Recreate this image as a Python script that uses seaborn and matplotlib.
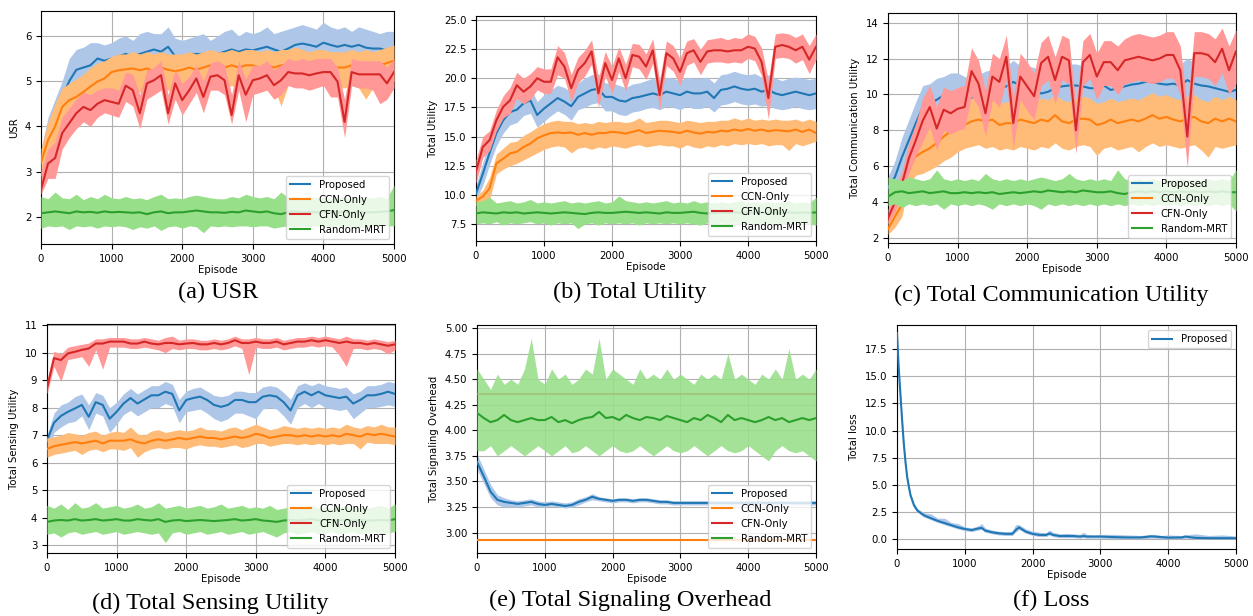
import numpy as np
import pandas as pd
import matplotlib
matplotlib.use("Agg")
import matplotlib.pyplot as plt
import seaborn as sns

# episodes (every 100) shared by panels a-e
ep = list(range(0, 5001, 100))

# ---- (a) USR ----
usr_prop = [3.3,3.7,4.2,4.65,5.0,5.25,5.3,5.35,5.5,5.45, 5.5,5.55,5.6,5.55,5.6,5.65,5.7,5.65,5.76,5.55,
            5.55,5.6,5.6,5.6,5.55,5.6,5.65,5.7,5.65,5.7, 5.68,5.72,5.76,5.7,5.65,5.72,5.8,5.83,5.8,5.76,
            5.85,5.8,5.76,5.8,5.76,5.8,5.74,5.72,5.72,5.68, 5.72]
usr_prop_hi = [3.5,4.2,4.6,5.0,5.5,5.7,5.75,5.85,5.85,5.8, 5.85,5.95,6.0,5.9,6.05,6.1,6.05,6.05,6.2,5.95,
               5.9,5.95,6.0,6.05,5.9,6.0,6.1,6.15,6.0,6.1, 6.05,6.1,6.2,6.05,6.1,6.15,6.2,6.25,6.2,6.15,
               6.3,6.2,6.15,6.2,6.1,6.2,6.15,6.1,6.05,6.1, 6.1]
usr_prop_lo = [3.0,3.35,3.8,4.3,4.6,4.9,4.95,5.0,5.15,5.1, 5.15,5.2,5.25,5.2,5.25,5.3,5.35,5.3,5.4,5.2,
               5.2,5.25,5.25,5.25,5.2,5.25,5.3,5.35,5.3,5.35, 5.3,5.35,5.4,5.35,5.3,5.35,5.45,5.45,5.45,5.4,
               5.5,5.45,5.4,5.45,5.4,5.45,5.4,5.35,5.35,5.3, 5.35]
usr_ccn = [3.2,3.7,4.0,4.43,4.58,4.65,4.76,4.88,4.99,5.06, 5.2,5.24,5.26,5.28,5.24,5.28,5.22,5.3,5.25,5.22,
           5.25,5.3,5.25,5.3,5.35,5.3,5.3,5.35,5.3,5.35, 5.35,5.3,5.35,5.3,5.35,5.35,5.4,5.35,5.3,5.35,
           5.35,5.3,5.3,5.3,5.35,5.3,5.35,5.3,5.35,5.4, 5.45]
usr_ccn_hi = [3.5,4.1,4.5,4.85,4.95,5.05,5.15,5.3,5.4,5.45, 5.55,5.6,5.6,5.65,5.6,5.65,5.6,5.65,5.6,5.6,
              5.6,5.65,5.6,5.65,5.7,5.65,5.65,5.7,5.65,5.7, 5.7,5.65,5.7,5.65,5.7,5.7,5.75,5.7,5.65,5.7,
              5.7,5.65,5.65,5.65,5.7,5.65,5.7,5.65,5.7,5.75, 5.8]
usr_ccn_lo = [2.9,3.3,3.6,4.0,4.2,4.25,4.35,4.45,4.55,4.6, 4.75,4.8,4.8,4.85,4.75,4.85,4.8,4.85,4.8,4.75,
              4.8,4.85,4.8,4.85,4.9,4.85,4.85,4.9,4.85,4.9, 4.85,4.85,4.9,4.85,4.45,4.9,4.95,4.9,4.85,4.9,
              4.9,4.85,4.85,4.85,4.9,4.85,4.6,4.85,4.9,4.95, 5.0]
usr_cfn = [2.6,3.18,3.3,3.85,4.07,4.29,4.43,4.36,4.5,4.58, 4.54,4.5,4.9,4.8,4.29,4.95,5.02,5.13,4.29,4.95,
           4.58,4.8,5.06,4.65,5.1,5.13,5.02,4.25,5.13,4.7, 5.02,5.06,5.13,4.91,5.02,5.2,5.17,5.17,5.13,5.17,
           5.2,5.2,4.99,4.1,5.2,5.15,5.15,5.15,5.15,4.95, 5.2]
usr_cfn_hi = [3.0,3.5,3.65,4.2,4.4,4.6,4.75,4.7,4.8,4.85, 4.85,4.8,5.2,5.15,4.7,5.25,5.3,5.45,4.7,5.25,
              4.95,5.1,5.35,5.0,5.4,5.45,5.35,4.7,5.45,5.05, 5.35,5.35,5.45,5.25,5.35,5.5,5.45,5.5,5.45,5.5,
              5.5,5.5,5.3,4.6,5.5,5.45,5.45,5.45,5.45,5.3, 5.5]
usr_cfn_lo = [2.5,2.85,2.85,3.5,3.75,3.95,4.1,4.0,4.2,4.3, 4.25,4.2,4.55,4.45,3.95,4.6,4.7,4.8,4.05,4.6,
              4.25,4.5,4.75,4.3,4.8,4.8,4.7,4.05,4.8,4.1, 4.7,4.75,4.8,4.6,4.7,4.9,4.85,4.85,4.8,4.85,
              4.9,4.65,4.65,3.75,4.9,4.85,4.85,4.8,4.5,4.6, 4.85]
usr_rand = [2.08,2.1,2.12,2.1,2.08,2.12,2.1,2.11,2.09,2.12, 2.1,2.11,2.1,2.09,2.1,2.06,2.1,2.12,2.08,2.1,
            2.1,2.12,2.14,2.12,2.1,2.1,2.09,2.11,2.1,2.14, 2.12,2.1,2.12,2.08,2.06,2.1,2.12,2.1,2.11,2.1,
            2.12,2.1,2.1,2.11,2.1,2.12,2.1,2.1,2.11,2.12, 2.15]
usr_rand_hi = [2.45,2.4,2.55,2.42,2.4,2.5,2.38,2.45,2.4,2.5, 2.42,2.4,2.45,2.4,2.42,2.38,2.45,2.5,2.4,2.42,
               2.4,2.45,2.48,2.45,2.42,2.4,2.4,2.45,2.42,2.5, 2.45,2.42,2.45,2.4,2.55,2.42,2.45,2.42,2.45,2.42,
               2.45,2.4,2.42,2.45,2.4,2.45,2.42,2.42,2.45,2.4, 2.7]
usr_rand_lo = [1.75,1.8,1.78,1.8,1.72,1.8,1.78,1.8,1.75,1.8, 1.78,1.8,1.78,1.72,1.78,1.75,1.8,1.7,1.78,1.8,
               1.75,1.8,1.78,1.65,1.8,1.78,1.8,1.78,1.8,1.8, 1.78,1.8,1.8,1.75,1.78,1.8,1.78,1.8,1.78,1.8,
               1.8,1.78,1.8,1.78,1.8,1.75,1.8,1.78,1.8,1.8, 1.8]

# ---- (b) Total Utility ----
util_prop = [10.1,11.8,13.6,15.3,16.4,17.1,17.3,17.85,18.1,16.85, 17.4,17.85,18.3,18.0,17.6,18.4,18.7,19.0,19.1,18.4,
             18.4,18.1,18.0,18.3,18.4,18.55,18.7,18.55,18.85,18.7, 18.55,18.85,18.7,18.7,18.85,18.3,19.0,19.1,19.3,19.1,
             19.0,19.1,18.85,19.0,18.7,18.55,18.7,18.85,18.7,18.55, 18.7]
util_prop_hi = [10.8,12.8,14.6,16.3,17.5,18.3,18.5,18.9,19.2,18.0, 18.6,19.0,19.4,19.2,18.8,19.6,20.0,20.3,20.4,19.6,
                19.6,19.4,19.2,19.5,19.6,19.8,20.0,19.8,20.1,20.0, 19.8,20.1,20.0,20.0,20.1,19.6,20.3,20.4,20.6,20.4,
                20.3,20.4,20.1,20.3,20.0,19.8,20.0,20.1,20.0,19.9, 20.0]
util_prop_lo = [9.6,10.8,12.6,14.2,15.3,16.0,16.2,16.8,17.0,15.8, 16.3,16.8,17.2,16.9,16.4,17.3,17.5,17.8,17.9,17.2,
                17.2,16.9,16.8,17.1,17.2,17.4,17.5,17.3,17.6,17.5, 17.3,17.6,17.4,17.4,17.6,17.1,17.7,17.8,18.0,17.8,
                17.7,17.8,17.6,17.7,17.4,17.3,17.4,17.6,17.4,17.3, 17.4]
util_ccn = [9.5,9.85,10.55,12.7,13.1,13.55,13.7,14.1,14.4,14.85, 15.1,15.3,15.35,15.3,15.35,15.15,15.3,15.15,15.3,15.3,
            15.4,15.35,15.25,15.4,15.55,15.3,15.4,15.5,15.45,15.4, 15.3,15.5,15.35,15.25,15.4,15.35,15.5,15.45,15.6,15.5,
            15.65,15.5,15.6,15.45,15.55,15.5,15.45,15.6,15.4,15.6, 15.3]
util_ccn_hi = [9.9,10.4,11.5,13.5,14.0,14.5,14.6,15.1,15.4,15.8, 16.1,16.3,16.4,16.3,16.3,16.1,16.2,16.1,16.3,16.2,
               16.3,16.3,16.2,16.3,16.6,16.2,16.3,16.4,16.4,16.3, 16.2,16.4,16.3,16.2,16.3,16.3,16.4,16.4,16.6,16.4,
               16.6,16.4,16.5,16.4,16.5,16.4,16.4,16.5,16.3,16.5, 16.3]
util_ccn_lo = [9.1,9.3,9.6,11.8,12.2,12.5,12.7,13.0,13.3,13.6, 13.9,14.1,14.2,14.1,13.6,14.0,14.1,13.9,14.1,14.0,
               14.2,14.1,14.0,14.2,14.3,14.1,14.2,14.3,14.2,14.2, 14.0,14.3,14.1,14.0,14.2,14.1,14.3,14.2,14.4,14.3,
               14.4,14.3,14.4,14.2,14.3,14.3,13.8,14.4,14.2,14.4, 14.6]
util_cfn = [12.0,14.1,14.7,16.4,17.55,18.1,19.4,18.85,19.3,20.0, 19.7,19.7,21.8,21.0,19.15,20.7,21.3,22.3,18.7,21.3,
            19.85,21.7,20.0,22.0,21.85,21.0,22.4,18.55,22.15,21.7, 20.55,22.15,22.4,21.4,22.3,22.4,22.4,22.3,22.4,22.4,
            22.7,22.55,21.4,18.3,22.7,22.85,22.7,22.4,22.7,21.6, 22.7]
util_cfn_hi = [13.0,15.0,15.5,17.3,18.5,19.2,20.5,20.0,20.4,21.0, 20.8,20.8,22.8,22.2,20.3,21.8,22.4,23.3,20.0,22.3,
               21.0,22.7,21.2,23.0,22.9,22.1,23.4,19.8,23.2,22.8, 21.7,23.2,23.4,22.5,23.3,23.4,23.5,23.3,23.5,23.4,
               23.8,23.6,22.6,19.8,23.8,23.9,23.8,23.5,23.8,22.8, 23.8]
util_cfn_lo = [11.0,13.2,13.8,15.5,16.6,17.0,18.3,17.8,18.2,19.0, 18.7,18.7,20.3,20.0,18.0,19.6,20.2,21.2,17.5,20.2,
               18.7,20.6,18.9,21.0,20.8,19.9,21.3,17.3,21.1,20.6, 19.4,21.1,21.4,20.3,21.3,21.4,21.4,21.3,21.4,21.3,
               21.7,21.5,20.2,16.5,21.7,21.8,21.7,21.3,21.6,20.4, 21.6]
util_rand = [8.4,8.5,8.45,8.4,8.5,8.45,8.5,8.4,8.45,8.5, 8.45,8.4,8.45,8.5,8.45,8.4,8.35,8.45,8.5,8.45,
             8.45,8.5,8.55,8.5,8.45,8.5,8.45,8.4,8.5,8.45, 8.45,8.5,8.55,8.45,8.4,8.45,8.5,8.45,8.5,8.45,
             8.5,8.45,8.5,8.45,8.5,8.45,8.5,8.45,8.5,8.45, 8.5]
util_rand_hi = [9.4,9.5,9.8,9.3,9.4,9.5,9.3,9.4,9.6,9.3, 9.4,9.3,9.4,9.5,9.3,9.4,9.3,9.4,9.5,9.3,
                9.4,9.9,9.5,9.4,9.3,9.4,9.3,9.4,9.5,9.3, 9.4,9.3,9.5,9.3,9.4,9.3,9.4,9.3,9.4,9.5,
                9.3,9.4,9.3,9.4,9.3,9.4,9.5,9.3,9.4,9.3, 9.8]
util_rand_lo = [7.5,7.6,7.5,7.7,7.4,7.6,7.5,7.6,7.7,7.5, 7.6,7.4,7.6,7.5,7.6,7.1,7.5,7.6,7.4,7.6,
                7.5,7.6,7.5,7.6,7.4,7.6,7.5,7.6,7.5,7.6, 7.5,7.6,7.5,7.4,7.6,7.5,7.6,7.5,7.6,7.5,
                7.6,7.5,7.6,7.5,7.6,7.5,7.6,7.5,7.6,7.5, 7.4]

# ---- (c) Total Communication Utility ----
comm_prop = [4.8,5.4,6.5,7.45,8.4,9.3,9.5,9.7,9.95,10.05, 10.15,9.9,9.8,9.95,10.15,10.25,10.35,10.45,10.7,10.5,
             10.45,10.35,10.05,10.15,10.35,10.45,10.5,10.5,10.45,10.35, 10.35,10.5,10.25,10.35,10.45,10.55,10.6,10.7,10.7,10.6,
             10.55,10.6,10.5,10.8,10.6,10.5,10.45,10.35,10.25,10.15, 10.25]
comm_prop_hi = [5.4,6.3,7.6,8.6,9.6,10.5,10.6,10.9,11.0,11.2, 11.2,11.0,10.9,11.1,11.3,11.4,11.5,11.6,11.9,11.6,
                11.6,11.5,11.2,11.3,11.5,11.6,11.7,11.7,11.6,11.5, 11.5,11.7,11.4,11.5,11.6,11.7,11.8,11.9,11.9,11.8,
                11.7,11.8,11.7,12.0,11.8,11.7,11.6,11.5,11.4,11.3, 11.4]
comm_prop_lo = [4.3,4.8,5.6,6.5,7.4,8.3,8.5,8.6,8.9,9.0, 9.1,8.9,8.8,8.9,9.1,9.2,9.3,9.4,9.6,9.4,
                9.4,9.3,9.0,9.1,9.3,9.4,9.5,9.4,9.4,9.3, 9.3,9.4,9.2,9.3,9.4,9.5,9.5,9.6,9.6,9.5,
                9.5,9.5,9.4,9.7,9.5,9.4,9.4,9.3,9.2,9.1, 9.2]
comm_ccn = [2.5,3.2,3.85,6.0,6.55,6.8,7.0,7.3,7.65,7.95, 8.1,8.3,8.5,8.6,8.5,8.6,8.3,8.4,8.4,8.6,
            8.5,8.4,8.6,8.5,8.85,8.5,8.4,8.6,8.65,8.6, 8.3,8.4,8.6,8.4,8.5,8.6,8.5,8.65,8.85,8.65,
            8.75,8.6,8.5,8.65,8.75,8.5,8.4,8.65,8.5,8.65, 8.5]
comm_ccn_hi = [3.0,3.8,4.6,7.0,7.6,8.0,8.2,8.5,8.9,9.2, 9.4,9.5,9.8,9.9,9.7,9.8,9.5,9.6,9.6,9.8,
               9.7,9.6,9.8,9.7,10.0,9.7,9.6,9.8,9.9,9.8, 9.5,9.6,9.8,9.6,9.7,9.8,9.7,9.9,10.1,9.9,
               10.0,9.8,9.7,9.9,10.0,9.7,9.6,9.9,9.7,9.9, 9.7]
comm_ccn_lo = [2.2,2.6,3.2,5.0,5.5,5.6,5.8,6.0,6.3,6.5, 6.8,7.0,7.1,7.2,7.0,7.1,6.9,7.0,6.9,7.1,
               7.0,6.9,7.1,7.0,7.3,7.0,6.9,7.1,7.2,7.1, 6.6,7.0,7.1,6.9,7.0,7.1,6.8,7.1,7.3,7.1,
               7.2,7.1,7.0,7.1,7.2,6.9,6.5,7.1,7.0,7.1, 7.2]
comm_cfn = [3.1,4.0,5.0,6.45,7.45,8.55,9.3,8.1,9.15,8.95, 9.2,9.3,11.3,10.6,8.95,11.0,10.7,12.1,8.4,11.0,
            10.45,9.9,11.75,12.1,10.8,12.1,11.9,8.0,11.8,12.2, 11.0,11.8,11.8,11.35,11.9,12.0,12.1,12.0,11.9,12.0,
            12.2,12.2,11.35,7.65,12.3,12.3,12.2,11.8,12.55,11.35, 12.4]
comm_cfn_hi = [3.6,4.8,5.7,7.3,8.4,9.8,10.5,9.3,10.4,10.2, 10.4,10.5,12.6,11.9,10.2,12.3,12.0,13.3,9.8,12.3,
               11.8,11.2,12.9,13.3,12.1,13.3,13.1,9.3,13.0,13.4, 12.3,13.0,13.0,12.7,13.1,13.3,13.4,13.3,13.2,13.3,
               13.5,13.5,12.7,9.3,13.5,13.5,13.4,13.1,13.7,12.7, 13.6]
comm_cfn_lo = [2.8,3.5,4.4,5.6,6.6,7.4,8.2,6.9,8.0,7.8, 8.0,8.1,9.9,9.3,7.7,9.7,9.3,10.8,7.0,9.7,
               9.1,8.6,10.5,10.8,9.5,10.8,10.6,6.7,10.5,10.9, 9.7,10.5,10.5,10.0,10.6,10.7,10.8,10.7,10.6,10.7,
               10.9,10.9,10.0,5.9,11.0,11.0,10.9,10.5,11.2,10.0, 10.6]
comm_rand = [4.3,4.55,4.6,4.5,4.55,4.6,4.5,4.55,4.6,4.5, 4.5,4.55,4.5,4.55,4.5,4.55,4.45,4.5,4.55,4.5,
             4.55,4.6,4.55,4.65,4.6,4.55,4.6,4.55,4.65,4.6, 4.55,4.55,4.6,4.5,4.45,4.55,4.6,4.55,4.6,4.55,
             4.6,4.55,4.6,4.55,4.6,4.55,4.6,4.55,4.6,4.55, 4.55]
comm_rand_hi = [5.4,5.3,5.2,5.4,5.3,5.2,5.3,5.8,5.3,5.2, 5.3,5.2,5.3,5.2,5.6,5.3,5.2,5.3,5.2,5.3,
                5.2,5.3,5.4,5.3,5.2,5.3,5.6,5.3,5.2,5.3, 5.2,5.3,5.2,5.8,5.3,5.2,5.3,5.2,5.3,5.2,
                5.3,5.2,5.3,5.2,5.3,5.2,5.3,5.2,5.3,5.2, 5.8]
comm_rand_lo = [3.8,3.9,3.7,3.9,3.8,3.9,3.8,3.9,3.6,3.9, 3.8,3.9,3.8,3.9,3.8,3.6,3.9,3.8,3.9,3.8,
                3.9,3.8,3.6,3.9,3.8,3.9,3.8,3.9,3.8,3.9, 3.8,3.9,3.8,3.9,3.8,3.9,3.8,3.9,3.8,3.9,
                3.8,3.9,3.8,3.9,3.8,3.9,3.8,3.9,3.8,3.9, 3.5]

# ---- (d) Total Sensing Utility ----
sens_prop = [6.8,7.45,7.7,7.85,7.97,8.1,7.67,8.2,8.1,7.6, 7.85,8.15,8.35,8.15,8.3,8.45,8.45,8.58,8.5,7.9,
             8.28,8.35,8.4,8.28,8.1,8.03,8.1,8.28,8.28,8.2, 8.2,8.4,8.45,8.4,8.2,7.9,8.45,8.58,8.45,8.58,
             8.45,8.4,8.35,8.4,8.15,8.28,8.45,8.45,8.5,8.58, 8.5]
sens_prop_hi = [7.0,7.8,8.1,8.2,8.4,8.5,8.1,8.55,8.45,8.0, 8.2,8.5,8.7,8.5,8.65,8.8,8.8,8.95,8.85,8.3,
                8.6,8.7,8.75,8.6,8.45,8.4,8.45,8.6,8.6,8.55, 8.55,8.75,8.8,8.75,8.55,8.3,8.8,8.9,8.8,8.9,
                8.8,8.75,8.7,8.75,8.5,8.6,8.8,8.8,8.85,8.95, 8.9]
sens_prop_lo = [6.2,7.1,7.3,7.45,7.5,7.7,7.2,7.8,7.7,7.1, 7.4,7.75,7.9,7.7,7.85,8.0,8.0,8.15,8.05,7.45,
                7.85,7.9,7.95,7.8,7.6,7.5,7.6,7.8,7.8,7.7, 7.6,7.95,8.0,7.95,7.7,7.4,8.0,8.15,8.0,8.15,
                8.0,7.95,7.9,7.95,7.6,7.8,8.0,8.0,8.05,8.1, 8.05]
sens_ccn = [6.5,6.6,6.65,6.7,6.75,6.7,6.75,6.8,6.7,6.8, 6.8,6.8,6.85,6.75,6.7,6.8,6.85,6.8,6.85,6.9,
            6.85,6.9,6.95,6.9,6.9,6.85,6.9,6.95,6.9,6.95, 7.05,7.0,6.9,6.95,7.0,7.0,6.95,7.0,6.95,7.0,
            6.95,7.0,6.95,7.05,7.0,6.95,7.05,7.0,7.05,7.0, 6.95]
sens_ccn_hi = [6.9,6.95,7.0,7.1,7.05,7.0,7.1,7.15,7.0,7.1, 7.15,7.1,7.3,7.05,7.0,7.15,7.2,7.1,7.15,7.2,
               7.15,7.2,7.3,7.2,7.2,7.15,7.25,7.3,7.2,7.3, 7.4,7.3,7.2,7.25,7.35,7.3,7.25,7.3,7.25,7.3,
               7.25,7.3,7.25,7.4,7.3,7.25,7.35,7.3,7.4,7.3, 7.3]
sens_ccn_lo = [6.2,6.3,6.35,6.4,6.45,6.3,6.45,6.5,6.4,6.5, 6.5,6.45,6.55,6.2,6.4,6.5,6.55,6.5,6.55,6.55,
               6.5,6.6,6.65,6.6,6.6,6.55,6.6,6.65,6.55,6.6, 6.7,6.7,6.6,6.65,6.7,6.7,6.65,6.7,6.65,6.7,
               6.65,6.7,6.65,6.7,6.7,6.5,6.75,6.7,6.7,6.7, 6.65]
sens_cfn = [8.7,9.8,9.73,9.97,10.03,10.1,10.15,10.33,10.33,10.4, 10.4,10.4,10.33,10.33,10.4,10.33,10.3,10.35,10.35,10.3,
            10.33,10.35,10.3,10.3,10.35,10.3,10.35,10.45,10.35,10.35, 10.4,10.35,10.35,10.4,10.3,10.35,10.4,10.4,10.45,10.4,
            10.45,10.4,10.35,10.4,10.35,10.35,10.3,10.35,10.3,10.25, 10.3]
sens_cfn_hi = [9.0,10.05,9.95,10.2,10.25,10.3,10.35,10.5,10.5,10.55, 10.55,10.55,10.5,10.5,10.55,10.5,10.45,10.55,10.6,10.45,
               10.5,10.5,10.45,10.45,10.5,10.45,10.5,10.6,10.5,10.5, 10.55,10.5,10.5,10.55,10.45,10.5,10.55,10.55,10.6,10.55,
               10.6,10.55,10.5,10.6,10.5,10.5,10.45,10.5,10.45,10.4, 10.45]
sens_cfn_lo = [8.5,9.5,8.95,9.75,9.8,9.85,9.5,10.1,9.4,10.2, 10.2,10.2,10.15,10.15,10.2,10.15,10.1,10.0,10.15,10.1,
               10.15,10.15,10.1,10.1,10.15,10.1,10.15,10.25,10.15,9.2, 10.2,10.15,10.15,10.2,10.1,10.15,10.2,10.2,10.25,10.2,
               10.25,10.2,9.9,9.5,10.15,10.15,10.1,10.15,10.1,9.95, 10.1]
sens_rand = [3.85,3.9,3.92,3.9,3.95,3.9,3.92,3.95,3.9,3.92, 3.95,3.9,3.9,3.95,3.92,3.9,3.95,3.85,3.9,3.92,
             3.88,3.9,3.92,3.9,3.88,3.9,3.92,3.95,3.9,3.92, 3.95,3.9,3.88,3.85,3.9,3.92,3.9,3.92,3.95,3.9,
             3.92,3.9,3.9,3.92,3.9,3.92,3.9,3.9,3.92,3.9, 3.95]
sens_rand_hi = [4.45,4.35,4.5,4.3,4.55,4.35,4.4,4.55,4.35,4.4, 4.45,4.35,4.4,4.5,4.35,4.4,4.55,4.35,4.4,4.45,
                4.35,4.4,4.45,4.35,4.4,4.5,4.35,4.4,4.45,4.35, 4.4,4.35,4.45,4.3,4.35,4.4,4.35,4.4,4.45,4.35,
                4.4,4.35,4.4,4.45,4.35,4.4,4.35,4.4,4.45,4.35, 4.5]
sens_rand_lo = [3.4,3.45,3.3,3.45,3.5,3.4,3.45,3.5,3.4,3.45, 3.5,3.4,3.45,3.5,3.45,3.4,3.45,3.1,3.45,3.5,
                3.4,3.45,3.5,3.4,3.45,3.5,3.4,3.45,3.5,3.4, 3.45,3.5,3.4,3.3,3.45,3.5,3.4,3.45,3.5,3.4,
                3.45,3.5,3.4,3.45,3.5,3.4,3.45,3.5,3.4,3.45, 3.5]

# ---- (e) Total Signaling Overhead ----
sig_prop = [3.69,3.55,3.4,3.32,3.3,3.29,3.28,3.29,3.3,3.28, 3.27,3.28,3.27,3.26,3.27,3.3,3.32,3.35,3.33,3.32,
            3.31,3.32,3.32,3.31,3.32,3.32,3.31,3.3,3.3,3.29, 3.29,3.29,3.29,3.29,3.29,3.29,3.29,3.29,3.29,3.29,
            3.29,3.29,3.29,3.29,3.29,3.29,3.29,3.29,3.29,3.29, 3.29]
sig_prop_hi = [3.77,3.62,3.47,3.37,3.34,3.32,3.31,3.32,3.33,3.31, 3.3,3.31,3.3,3.29,3.3,3.33,3.35,3.38,3.35,3.34,
               3.33,3.34,3.34,3.33,3.34,3.34,3.33,3.32,3.32,3.31, 3.31,3.31,3.31,3.31,3.31,3.31,3.31,3.31,3.31,3.31,
               3.31,3.31,3.31,3.31,3.31,3.31,3.31,3.31,3.31,3.31, 3.31]
sig_prop_lo = [3.62,3.48,3.34,3.27,3.25,3.25,3.25,3.26,3.27,3.25, 3.25,3.26,3.25,3.24,3.25,3.27,3.3,3.32,3.31,3.3,
               3.29,3.3,3.3,3.29,3.3,3.3,3.29,3.28,3.28,3.27, 3.27,3.27,3.27,3.27,3.27,3.27,3.27,3.27,3.27,3.27,
               3.27,3.27,3.27,3.27,3.27,3.27,3.27,3.27,3.27,3.27, 3.27]
sig_flat_ep = [0, 5000]
sig_ccn = [2.925, 2.925]
sig_cfn = [4.36, 4.36]
sig_rand = [4.17,4.12,4.08,4.1,4.15,4.1,4.08,4.1,4.12,4.1, 4.1,4.13,4.08,4.1,4.07,4.1,4.12,4.13,4.18,4.12,
            4.13,4.1,4.15,4.12,4.1,4.13,4.12,4.1,4.14,4.12, 4.1,4.08,4.12,4.1,4.15,4.12,4.08,4.15,4.1,4.12,
            4.1,4.08,4.1,4.13,4.1,4.12,4.08,4.1,4.12,4.1, 4.12]
sig_rand_hi = [4.6,4.5,4.4,4.55,4.45,4.5,4.45,4.6,4.9,4.5, 4.45,4.6,4.5,4.55,4.45,4.5,4.6,4.55,4.9,4.5,
               4.6,4.55,4.5,4.45,4.6,4.5,4.55,4.5,4.6,4.5, 4.55,4.5,4.45,4.55,4.5,4.55,4.5,4.75,4.5,4.55,
               4.5,4.45,4.55,4.5,4.6,4.5,4.8,4.5,4.55,4.5, 4.6]
sig_rand_lo = [3.8,3.8,3.85,3.75,3.8,3.85,3.8,3.75,3.8,3.85, 3.8,3.75,3.8,3.85,3.78,3.8,3.85,3.8,3.75,3.8,
               3.85,3.8,3.78,3.8,3.85,3.8,3.75,3.8,3.85,3.8, 3.78,3.8,3.85,3.8,3.75,3.8,3.85,3.8,3.78,3.8,
               3.85,3.8,3.75,3.7,3.8,3.85,3.8,3.78,3.8,3.75, 3.7]

# ---- (f) Loss ----
loss_ep = [0,25,50,75,100,125,150,175,200,250,300,400,500,600,700,800,900,1000,1100,1200,1250,1300,1400,1500,
           1600,1700,1750,1800,1900,2000,2100,2200,2250,2300,2400,2500,2600,2700,2750,2800,2900,3000,3200,3400,
           3600,3750,3800,3900,4000,4200,4250,4400,4600,4800,5000]
loss = [19.0,15.8,13.4,11.0,8.8,7.1,5.7,4.8,4.0,3.1,2.6,2.15,1.9,1.65,1.45,1.25,1.05,0.9,0.8,0.95,1.0,0.75,0.6,0.5,
        0.45,0.45,0.8,1.05,0.65,0.45,0.35,0.35,0.5,0.35,0.25,0.25,0.25,0.2,0.25,0.2,0.2,0.2,0.15,0.12,
        0.12,0.22,0.2,0.15,0.1,0.12,0.2,0.08,0.05,0.05,0.05]
loss_hi = [19.0,16.0,13.6,11.2,9.0,7.3,5.9,5.0,4.2,3.3,2.8,2.4,2.3,1.9,1.9,1.5,1.4,1.1,1.0,1.2,1.4,1.0,0.8,0.7,
           0.65,0.7,1.3,1.3,0.9,0.7,0.6,0.55,0.8,0.6,0.45,0.5,0.45,0.4,0.6,0.4,0.35,0.4,0.4,0.35,
           0.3,0.4,0.4,0.3,0.35,0.3,0.35,0.45,0.3,0.35,0.25]
loss_lo = [18.6,15.5,13.1,10.7,8.5,6.8,5.4,4.5,3.8,2.9,2.45,2.0,1.75,1.5,1.3,1.1,0.9,0.75,0.65,0.8,0.85,0.6,0.45,0.35,
           0.3,0.3,0.6,0.85,0.5,0.3,0.2,0.2,0.35,0.2,0.1,0.1,0.1,0.05,0.1,0.05,0.05,0.05,0.0,0.0,
           0.0,0.05,0.05,0.0,0.0,0.0,0.05,0.0,0.0,0.0,0.0]

names = ["Proposed", "CCN-Only", "CFN-Only", "Random-MRT"]
dark = ["#1f77b4", "#ff7f0e", "#d62728", "#2ca02c"]
light = ["#aec7e8", "#ffbb78", "#ff9896", "#98df8a"]

plt.rcParams["font.size"] = 7.3
plt.rcParams["font.family"] = "DejaVu Sans"

fig = plt.figure(figsize=(12.53, 6.16), dpi=100)
W, H = 1253, 616


def add_ax(l, t, r, b):
    return fig.add_axes([l / W, 1 - b / H, (r - l) / W, (b - t) / H])


def draw(ax, x, mid, lo, hi, i, band_alpha=1.0):
    # each series: raw band then smoothed line, stacked in series order
    if lo is not None:
        ax.fill_between(x, lo, hi, color=light[i], alpha=band_alpha, linewidth=0, zorder=2 + 2 * i)
    sns.lineplot(x=x, y=mid, ax=ax, color=dark[i], linewidth=1.5, label=names[i], zorder=3 + 2 * i)


def finish(ax, ylabel, ylim, yticks, loc="lower right"):
    ax.set_xlim(0, 5000)
    ax.set_ylim(*ylim)
    ax.set_xticks(range(0, 5001, 1000))
    ax.set_yticks(yticks)
    ax.set_xlabel("Episode", fontsize=7.3, labelpad=1)
    ax.set_ylabel(ylabel, fontsize=7.3)
    ax.tick_params(labelsize=7.3)
    ax.grid(True, color="#b0b0b0", linewidth=0.8)
    ax.set_axisbelow(True)
    leg = ax.legend(loc=loc, fontsize=7.3)
    leg.set_zorder(20)


axa = add_ax(41, 11, 394, 244)
draw(axa, ep, usr_prop, usr_prop_lo, usr_prop_hi, 0)
draw(axa, ep, usr_ccn, usr_ccn_lo, usr_ccn_hi, 1)
draw(axa, ep, usr_cfn, usr_cfn_lo, usr_cfn_hi, 2)
draw(axa, ep, usr_rand, usr_rand_lo, usr_rand_hi, 3)
finish(axa, "USR", (1.40, 6.55), [2, 3, 4, 5, 6])

axb = add_ax(476, 16, 816, 241)
draw(axb, ep, util_prop, util_prop_lo, util_prop_hi, 0)
draw(axb, ep, util_ccn, util_ccn_lo, util_ccn_hi, 1)
draw(axb, ep, util_cfn, util_cfn_lo, util_cfn_hi, 2)
draw(axb, ep, util_rand, util_rand_lo, util_rand_hi, 3)
finish(axb, "Total Utility", (6.04, 25.34), np.arange(7.5, 25.1, 2.5))

axc = add_ax(888, 13, 1236, 243)
draw(axc, ep, comm_prop, comm_prop_lo, comm_prop_hi, 0)
draw(axc, ep, comm_ccn, comm_ccn_lo, comm_ccn_hi, 1)
draw(axc, ep, comm_cfn, comm_cfn_lo, comm_cfn_hi, 2)
draw(axc, ep, comm_rand, comm_rand_lo, comm_rand_hi, 3)
finish(axc, "Total Communication Utility", (1.72, 14.54), [2, 4, 6, 8, 10, 12, 14])

axd = add_ax(47, 324, 395, 553)
draw(axd, ep, sens_prop, sens_prop_lo, sens_prop_hi, 0)
draw(axd, ep, sens_ccn, sens_ccn_lo, sens_ccn_hi, 1)
draw(axd, ep, sens_cfn, sens_cfn_lo, sens_cfn_hi, 2)
draw(axd, ep, sens_rand, sens_rand_lo, sens_rand_hi, 3)
finish(axd, "Total Sensing Utility", (2.72, 11.04), range(3, 12))

axe = add_ax(477, 325, 816, 553)
draw(axe, ep, sig_prop, sig_prop_lo, sig_prop_hi, 0)
draw(axe, sig_flat_ep, sig_ccn, None, None, 1)
draw(axe, sig_flat_ep, sig_cfn, None, None, 2)
draw(axe, ep, sig_rand, sig_rand_lo, sig_rand_hi, 3, band_alpha=0.88)
finish(axe, "Total Signaling Overhead", (2.80, 5.03), np.arange(3.0, 5.01, 0.25))
axe.yaxis.set_major_formatter(matplotlib.ticker.FormatStrFormatter("%.2f"))

axf = add_ax(897, 325, 1236, 549)
draw(axf, loss_ep, loss, loss_lo, loss_hi, 0)
finish(axf, "Total loss", (-0.95, 19.75), np.arange(0, 17.6, 2.5), loc="upper right")

captions = [("(a) USR", 218, 292), ("(b) Total Utility", 630, 292),
            ("(c) Total Communication Utility", 1051, 295), ("(d) Total Sensing Utility", 210, 603),
            ("(e) Total Signaling Overhead", 630, 600), ("(f) Loss", 1051, 600)]
for txt, cx, cy in captions:
    fig.text(cx / W, 1 - cy / H, txt, ha="center", va="center",
             fontfamily="Liberation Serif", fontsize=17.5)

fig.savefig("out.png", dpi=100)
